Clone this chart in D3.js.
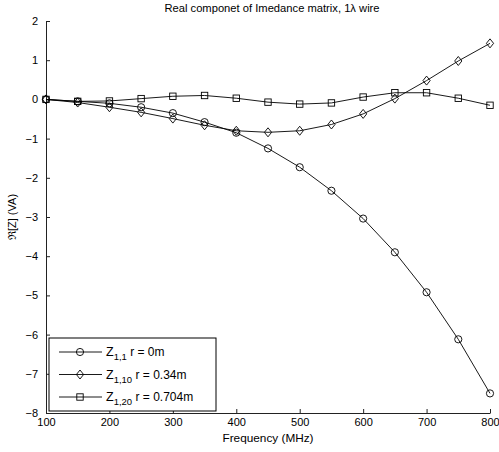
<!DOCTYPE html>
<html>
<head>
<meta charset="utf-8">
<script src="https://cdn.jsdelivr.net/npm/d3@7"></script>
<style>
  body { margin: 0; background: #fff; }
  text { font-family: "Liberation Sans", Arial, sans-serif; fill: #000; }
</style>
</head>
<body>
<svg id="chart"></svg>
<script>
// frequencies (MHz)
var freqs = [100, 150, 200, 250, 300, 350, 400, 450, 500, 550, 600, 650, 700, 750, 800];

// real part of impedance per series
var z11  = [0, -0.05, -0.1, -0.2, -0.35, -0.58, -0.85, -1.25, -1.73, -2.33, -3.04, -3.9, -4.92, -6.12, -7.5];
var z110 = [0, -0.08, -0.2, -0.33, -0.49, -0.66, -0.8, -0.84, -0.8, -0.64, -0.37, 0.02, 0.48, 0.98, 1.43];
var z120 = [0, -0.05, -0.04, 0.02, 0.08, 0.1, 0.03, -0.07, -0.12, -0.09, 0.06, 0.17, 0.17, 0.03, -0.15];

var xTicks = [100, 200, 300, 400, 500, 600, 700, 800];
var yTicks = [-8, -7, -6, -5, -4, -3, -2, -1, 0, 1, 2];

var series = [
  {sub: "1,1",  rest: " r = 0m",     values: z11,  marker: "circle"},
  {sub: "1,10", rest: " r = 0.34m",  values: z110, marker: "diamond"},
  {sub: "1,20", rest: " r = 0.704m", values: z120, marker: "square"}
];

var W = 499, H = 452;
var margin = {top: 21, right: 9, bottom: 39, left: 46};
var width = W - margin.left - margin.right,
    height = H - margin.top - margin.bottom;

var svg = d3.select("#chart").attr("width", W).attr("height", H);
var g = svg.append("g").attr("transform", "translate(" + margin.left + "," + margin.top + ")");

var x = d3.scaleLinear().domain([100, 800]).range([0, width]);
var y = d3.scaleLinear().domain([-8, 2]).range([height, 0]);

// axes, ticks pointing inward like matlab
var xAxis = g.append("g")
    .attr("transform", "translate(0," + height + ")")
    .call(d3.axisBottom(x).tickValues(xTicks).tickSizeInner(-4).tickSizeOuter(0).tickPadding(8));
var yAxis = g.append("g")
    .call(d3.axisLeft(y).tickValues(yTicks).tickSizeInner(-4).tickSizeOuter(0).tickPadding(8));

[xAxis, yAxis].forEach(function(a) {
  a.select(".domain").attr("stroke", "#222");
  a.selectAll(".tick line").attr("stroke", "#222");
  a.selectAll(".tick text").attr("font-size", 11)
      .attr("font-family", "Liberation Sans, Arial, sans-serif");
});
xAxis.selectAll(".tick text").attr("dy", "0.45em");

var line = d3.line()
    .x(function(d, i) { return x(freqs[i]); })
    .y(function(d) { return y(d); });

function drawMarker(sel, type) {
  if (type === "circle") {
    sel.append("circle").attr("r", 3.6);
  } else if (type === "square") {
    sel.append("rect").attr("x", -3.2).attr("y", -3.2).attr("width", 6.4).attr("height", 6.4);
  } else {
    sel.append("path").attr("d", "M0,-4.5L3.6,0L0,4.5L-3.6,0Z");
  }
}

series.forEach(function(s) {
  g.append("path")
      .datum(s.values)
      .attr("fill", "none")
      .attr("stroke", "#000")
      .attr("stroke-width", 0.9)
      .attr("d", line);

  var pts = g.selectAll(".m-" + s.marker)
      .data(s.values)
    .enter().append("g")
      .attr("class", "m-" + s.marker)
      .attr("fill", "none")
      .attr("stroke", "#000")
      .attr("stroke-width", 0.9)
      .attr("transform", function(d, i) { return "translate(" + x(freqs[i]) + "," + y(d) + ")"; });
  pts.each(function() { drawMarker(d3.select(this), s.marker); });
});

// title and labels
svg.append("text")
    .attr("x", 272)
    .attr("y", 12)
    .attr("text-anchor", "middle")
    .attr("font-size", 11.2)
    .text("Real componet of Imedance matrix, 1\u03bb wire");

svg.append("text")
    .attr("x", margin.left + width / 2)
    .attr("y", 442)
    .attr("text-anchor", "middle")
    .attr("font-size", 11.8)
    .text("Frequency (MHz)");

svg.append("text")
    .attr("transform", "translate(16," + (margin.top + height / 2) + ") rotate(-90)")
    .attr("text-anchor", "middle")
    .attr("font-size", 11)
    .text("\u211c[Z] (VA)");

// legend
var legend = svg.append("g").attr("transform", "translate(49,338)");
legend.append("rect")
    .attr("width", 167).attr("height", 73)
    .attr("fill", "#fff").attr("stroke", "#000").attr("stroke-width", 1);

series.forEach(function(s, i) {
  var row = legend.append("g").attr("transform", "translate(0," + (14 + i * 22.5) + ")");
  row.append("line").attr("x1", 10).attr("x2", 53)
      .attr("stroke", "#000").attr("stroke-width", 0.9);
  var m = row.append("g").attr("transform", "translate(31,0)")
      .attr("fill", "none").attr("stroke", "#000").attr("stroke-width", 0.9);
  drawMarker(m, s.marker);
  var t = row.append("text").attr("x", 57).attr("y", 4).attr("font-size", 12.5);
  t.append("tspan").text("Z");
  t.append("tspan").attr("font-size", 9.5).attr("dy", 4).text(s.sub);
  t.append("tspan").attr("font-size", 12).attr("dy", -4).text(s.rest);
});
</script>
</body>
</html>
